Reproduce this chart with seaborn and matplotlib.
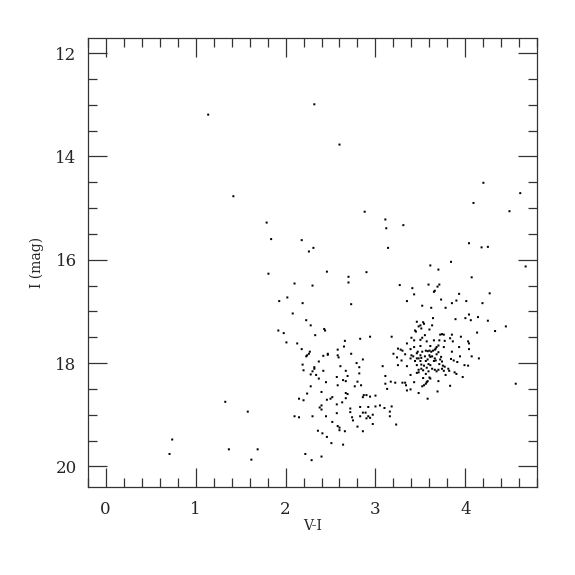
import matplotlib
matplotlib.use("Agg")
import matplotlib.pyplot as plt
import seaborn as sns
import pandas as pd
from matplotlib.ticker import MultipleLocator

# ---- data: (V-I, I) pairs ----
sparse_vi = [1.14, 2.32, 2.60, 1.42, 1.79, 1.84, 0.74, 0.71, 1.33, 1.58, 2.10, 2.15, 2.15, 1.37, 1.69, 1.62,
             2.88, 3.11, 3.31, 3.12, 2.18, 2.31, 2.26, 3.14, 4.20, 4.61, 4.09, 4.49, 4.04, 4.18, 4.25,
             1.81, 2.10, 2.02, 1.93, 2.08, 1.92, 1.98, 2.01, 2.13]
sparse_i = [13.19, 12.99, 13.77, 14.77, 15.28, 15.60, 19.48, 19.76, 18.75, 18.94, 19.03, 19.05, 18.69, 19.67, 19.67, 19.87,
            15.07, 15.22, 15.33, 15.39, 15.62, 15.77, 15.84, 15.77, 14.51, 14.71, 14.90, 15.06, 15.68, 15.76, 15.75,
            16.27, 16.46, 16.73, 16.80, 17.04, 17.37, 17.42, 17.60, 17.62]

mid_vi = [2.46, 2.70, 2.90, 2.70, 2.30, 3.27, 3.41, 3.43, 2.19, 2.73, 3.35, 2.23, 2.28, 2.43, 2.44, 2.33,
          3.46, 3.48, 3.44, 3.45, 2.94, 3.18, 2.83, 2.66, 2.65, 3.40, 3.43, 3.35, 2.18, 2.27, 2.26, 2.24,
          2.23, 2.58, 2.47, 2.47, 2.42, 2.58, 2.59, 2.73, 3.25, 3.28, 3.30, 3.39, 3.43, 3.20, 3.33, 3.40,
          3.42, 3.46, 3.47, 3.46, 3.48, 3.24, 3.29, 3.39, 3.44, 2.37, 2.19, 2.86, 2.79, 2.61, 3.08, 3.25,
          3.35, 3.46, 3.48, 2.32, 2.32, 2.20, 2.30, 2.42, 2.67, 2.82, 2.82, 2.34, 2.28, 2.69, 2.57, 3.11,
          3.39, 3.46, 3.48, 2.37]
mid_i = [16.23, 16.33, 16.24, 16.44, 16.50, 16.49, 16.55, 16.67, 16.84, 16.86, 16.80, 17.17, 17.27, 17.34, 17.37, 17.46,
         17.20, 17.29, 17.37, 17.39, 17.49, 17.49, 17.53, 17.57, 17.68, 17.51, 17.56, 17.62, 17.73, 17.78, 17.82, 17.85,
         17.87, 17.74, 17.82, 17.84, 17.86, 17.85, 17.89, 17.82, 17.72, 17.74, 17.76, 17.73, 17.69, 17.82, 17.83, 17.85,
         17.87, 17.81, 17.78, 17.91, 17.91, 17.89, 17.95, 17.91, 17.96, 17.97, 18.03, 17.93, 18.00, 18.06, 18.06, 18.04,
         18.06, 18.04, 18.13, 18.08, 18.11, 18.14, 18.16, 18.15, 18.15, 18.08, 18.20, 18.23, 18.22, 18.25, 18.27, 18.25,
         18.23, 18.19, 18.18, 18.30]

clump_vi = [3.84, 3.61, 3.70, 4.67, 4.07, 3.59, 3.71, 3.69, 3.66, 3.65, 3.93, 4.27, 3.90, 4.01, 3.73, 3.85,
            4.19, 3.52, 3.62, 3.78, 4.04, 3.64, 3.89, 4.00, 4.06, 4.14, 4.25, 4.45, 4.33, 4.13, 3.53, 3.54,
            3.50, 3.51, 3.63, 3.60, 3.72, 3.74, 3.76, 3.85, 3.95, 3.71, 3.83, 3.86, 3.55, 3.52, 3.50, 3.57,
            3.65, 3.77, 4.03, 4.04, 3.50, 3.61, 3.70, 3.76, 3.93, 4.04, 3.52, 3.56, 3.58, 3.60, 3.62, 3.64,
            3.66, 3.67, 3.68, 3.70, 3.68, 3.85, 3.50, 3.51, 3.55, 3.60, 3.61, 3.63, 3.66, 3.73, 3.94, 4.07,
            4.15, 3.50, 3.56, 3.58, 3.65, 3.67, 3.72, 3.74, 3.84, 3.87, 3.91, 3.51, 3.54, 3.59, 3.61, 3.71,
            3.75, 3.77, 3.99, 4.03, 3.51, 3.53, 3.57, 3.59, 3.63, 3.66, 3.68, 3.70, 3.74, 3.76, 3.81, 3.82,
            3.88, 3.90, 3.97, 3.56, 3.60, 3.61, 3.78, 3.53,
            3.52, 3.54, 3.56, 3.57, 3.58, 3.70, 3.83, 3.69, 3.58, 4.56]
clump_i = [16.04, 16.11, 16.19, 16.13, 16.34, 16.48, 16.48, 16.52, 16.60, 16.62, 16.66, 16.65, 16.79, 16.80, 16.77, 16.84,
           16.84, 16.89, 16.93, 16.93, 17.06, 17.13, 17.15, 17.13, 17.17, 17.11, 17.18, 17.29, 17.38, 17.41, 17.21, 17.24,
           17.27, 17.33, 17.27, 17.35, 17.45, 17.44, 17.45, 17.45, 17.49, 17.56, 17.52, 17.58, 17.46, 17.51, 17.55, 17.58,
           17.56, 17.57, 17.58, 17.62, 17.67, 17.67, 17.66, 17.69, 17.69, 17.73, 17.78, 17.76, 17.77, 17.76, 17.78, 17.76,
           17.74, 17.72, 17.69, 17.79, 17.83, 17.78, 17.85, 17.90, 17.87, 17.85, 17.88, 17.87, 17.91, 17.88, 17.87, 17.87,
           17.91, 17.96, 17.96, 17.93, 17.96, 17.95, 17.93, 17.97, 17.92, 17.95, 17.98, 18.03, 18.05, 18.02, 18.04, 18.02,
           18.05, 18.07, 18.04, 18.05, 18.11, 18.14, 18.09, 18.16, 18.11, 18.13, 18.16, 18.13, 18.11, 18.15, 18.11, 18.15,
           18.18, 18.21, 18.27, 18.21, 18.28, 18.30, 18.23, 18.29,
           18.45, 18.43, 18.40, 18.37, 18.35, 18.35, 18.44, 18.55, 18.69, 18.40]

faint_vi = [2.45, 2.64, 2.67, 2.80, 2.58, 2.77, 2.84, 2.28, 3.11, 3.17, 3.22, 3.30, 3.33, 3.34, 3.43, 3.13,
            3.35, 3.39, 3.48, 2.24, 2.40, 2.20, 2.67, 2.69, 2.87, 2.90, 2.86, 2.94, 3.00, 2.46, 2.50, 2.52,
            2.67, 2.57, 2.63, 2.40, 2.38, 2.40, 2.72, 2.72, 2.83, 2.92, 3.00, 3.05, 3.10, 3.18, 3.16, 2.30,
            2.45, 2.57, 2.83, 2.86, 2.89, 2.92, 2.94, 2.90, 2.97, 2.74, 2.75, 3.16, 2.52, 2.97, 3.23, 2.80,
            2.58, 2.60, 2.60, 2.36, 2.41, 2.66, 2.86, 2.46, 2.51, 2.64, 2.22, 2.29, 2.40]
faint_i = [18.37, 18.33, 18.35, 18.36, 18.43, 18.45, 18.43, 18.45, 18.40, 18.36, 18.38, 18.38, 18.38, 18.43, 18.37, 18.50,
           18.53, 18.51, 18.58, 18.59, 18.56, 18.72, 18.58, 18.60, 18.62, 18.62, 18.66, 18.65, 18.63, 18.71, 18.69, 18.66,
           18.68, 18.80, 18.76, 18.82, 18.86, 18.90, 18.88, 18.95, 18.85, 18.85, 18.84, 18.82, 18.87, 18.84, 18.94, 19.03,
           19.03, 18.97, 19.03, 18.96, 18.96, 19.03, 19.06, 19.07, 19.00, 19.05, 19.11, 19.03, 19.14, 19.18, 19.19, 19.23,
           19.22, 19.25, 19.30, 19.31, 19.36, 19.32, 19.32, 19.43, 19.55, 19.58, 19.76, 19.88, 19.81]

x_ticks = [0, 1, 2, 3, 4]
y_ticks = [12, 14, 16, 18, 20]
x_label = "V-I"
y_label = "I (mag)"

df = pd.DataFrame({
    "vi": sparse_vi + mid_vi + clump_vi + faint_vi,
    "imag": sparse_i + mid_i + clump_i + faint_i,
})

sns.set_style("ticks")
plt.rcParams["font.family"] = ["DejaVu Serif"]

fig = plt.figure(figsize=(5.75, 5.75), dpi=100)
ax = fig.add_axes([0.1525, 0.153, 0.782, 0.7815])
sns.scatterplot(data=df, x="vi", y="imag", ax=ax, marker="s", s=2.1,
                color="black", linewidth=0, edgecolor="none")
for coll in ax.collections:
    coll.set_snap(False)

ax.set_xlim(-0.2, 4.8)
ax.set_ylim(20.4, 11.7)
ax.set_xticks(x_ticks)
ax.set_yticks(y_ticks)
ax.xaxis.set_minor_locator(MultipleLocator(0.2))
ax.yaxis.set_minor_locator(MultipleLocator(0.5))
ax.tick_params(which="both", direction="in", top=True, right=True,
               color="#333333", width=0.9)
ax.tick_params(which="major", length=13.5, labelsize=12)
ax.tick_params(axis="x", which="major", pad=10)
ax.tick_params(axis="y", which="major", pad=8)
ax.tick_params(which="minor", length=6.7)
for sp in ax.spines.values():
    sp.set_linewidth(0.9)
    sp.set_color("#333333")
ax.set_xlabel(x_label, fontsize=10, labelpad=1)
ax.set_ylabel(y_label, fontsize=10, labelpad=8)

fig.savefig("out.png", dpi=100)
